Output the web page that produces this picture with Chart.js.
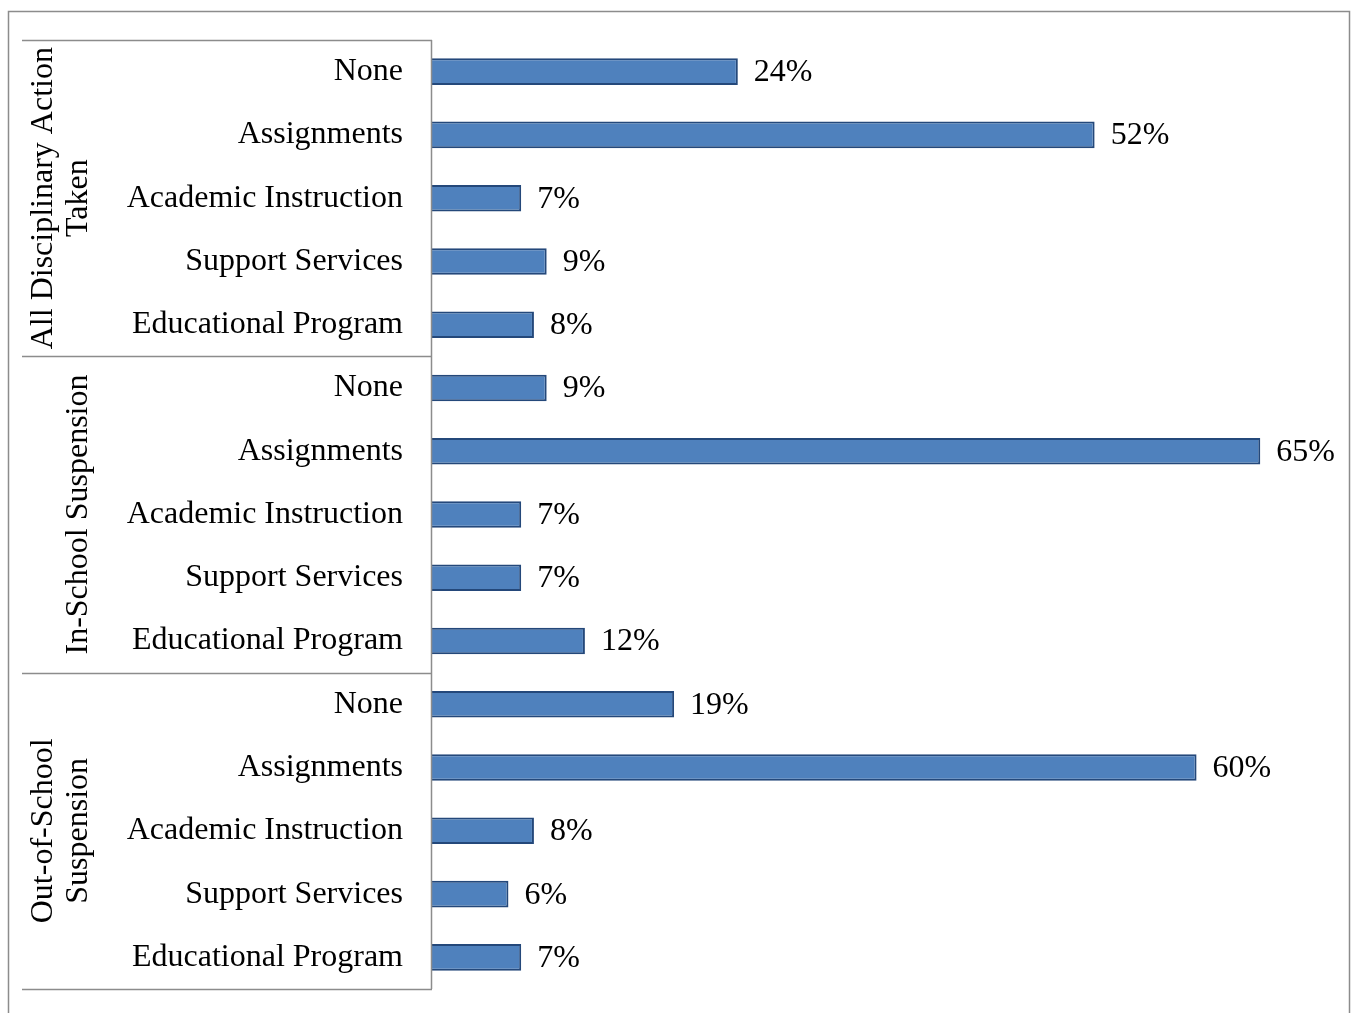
<!DOCTYPE html>
<html>
<head>
<meta charset="utf-8">
<script src="https://cdn.jsdelivr.net/npm/chart.js@4/dist/chart.umd.min.js"></script>
<style>
	html, body { margin: 0; padding: 0; background: #fff; }
	#wrap { position: relative; width: 1351px; height: 1013px; }
</style>
</head>
<body>
<div id="wrap"><canvas id="remedy-chart" width="1351" height="1013"></canvas></div>
<script>
const categories = [
	'None', 'Assignments', 'Academic Instruction', 'Support Services', 'Educational Program',
	'None', 'Assignments', 'Academic Instruction', 'Support Services', 'Educational Program',
	'None', 'Assignments', 'Academic Instruction', 'Support Services', 'Educational Program'
];
const percentValues = [24, 52, 7, 9, 8, 9, 65, 7, 7, 12, 19, 60, 8, 6, 7];
const groupTitles = [
	['All Disciplinary Action', 'Taken'],
	['In-School Suspension'],
	['Out-of-School', 'Suspension']
];
const groupSize = 5;

const FONT = '"Liberation Serif", "Times New Roman", serif';
const FONT_SIZE = 32;

// frame, group separators, rotated group titles and value labels
const decorations = {
	id: 'decorations',
	beforeDraw(chart) {
		const c = chart.ctx;
		c.save();
		c.strokeStyle = '#8c8c8c';
		c.lineWidth = 1.5;
		c.strokeRect(8.5, 11.5, 1341, 1100);
		c.restore();
	},
	afterDraw(chart) {
		const c = chart.ctx;
		const y = chart.scales.y;
		const area = chart.chartArea;
		const band = (y.getPixelForValue(1) - y.getPixelForValue(0));
		c.save();
		// separators between groups
		c.strokeStyle = '#8c8c8c';
		c.lineWidth = 1.5;
		for (let g = 0; g <= groupTitles.length; g++) {
			const yy = Math.round(y.getPixelForValue(g * groupSize) - band / 2) + 0.5;
			c.beginPath();
			c.moveTo(22, yy);
			c.lineTo(area.left, yy);
			c.stroke();
		}
		c.beginPath();
		c.moveTo(area.left - 0.5, area.top);
		c.lineTo(area.left - 0.5, area.bottom);
		c.stroke();

		// group titles, rotated
		c.fillStyle = '#000';
		c.font = FONT_SIZE + 'px ' + FONT;
		c.textAlign = 'center';
		c.textBaseline = 'middle';
		groupTitles.forEach(function (lines, g) {
			const mid = (y.getPixelForValue(g * groupSize) + y.getPixelForValue(g * groupSize + groupSize - 1)) / 2;
			const xs = lines.length === 2 ? [44, 79] : [79];
			lines.forEach(function (txt, i) {
				c.save();
				c.translate(xs[i], mid);
				c.rotate(-Math.PI / 2);
				c.fillText(txt, 0, 0);
				c.restore();
			});
		});

		// value labels
		const meta = chart.getDatasetMeta(0);
		c.textAlign = 'left';
		meta.data.forEach(function (bar, i) {
			c.fillText(percentValues[i] + '%', bar.x + 16, bar.y + 1);
		});
		c.restore();
	}
};

new Chart(document.getElementById('remedy-chart'), {
	type: 'bar',
	data: {
		labels: categories,
		datasets: [{
			data: percentValues,
			backgroundColor: '#4f81bd',
			borderColor: '#24487a',
			borderWidth: 2,
			borderSkipped: 'start',
			barPercentage: 0.42,
			categoryPercentage: 1
		}]
	},
	options: {
		indexAxis: 'y',
		responsive: false,
		animation: false,
		layout: { padding: { top: 40, right: 27, bottom: 24, left: 0 } },
		plugins: {
			legend: { display: false },
			tooltip: { enabled: false }
		},
		scales: {
			x: {
				display: false,
				min: 0,
				max: 70
			},
			y: {
				afterFit: function (scale) {
					scale.width = 432;
					scale.paddingTop = 0;
					scale.paddingBottom = 0;
				},
				grid: { display: false, drawTicks: false },
				border: { display: false },
				ticks: {
					padding: 29,
					color: '#000',
					font: { family: FONT, size: FONT_SIZE }
				}
			}
		}
	},
	plugins: [decorations]
});
</script>
</body>
</html>
